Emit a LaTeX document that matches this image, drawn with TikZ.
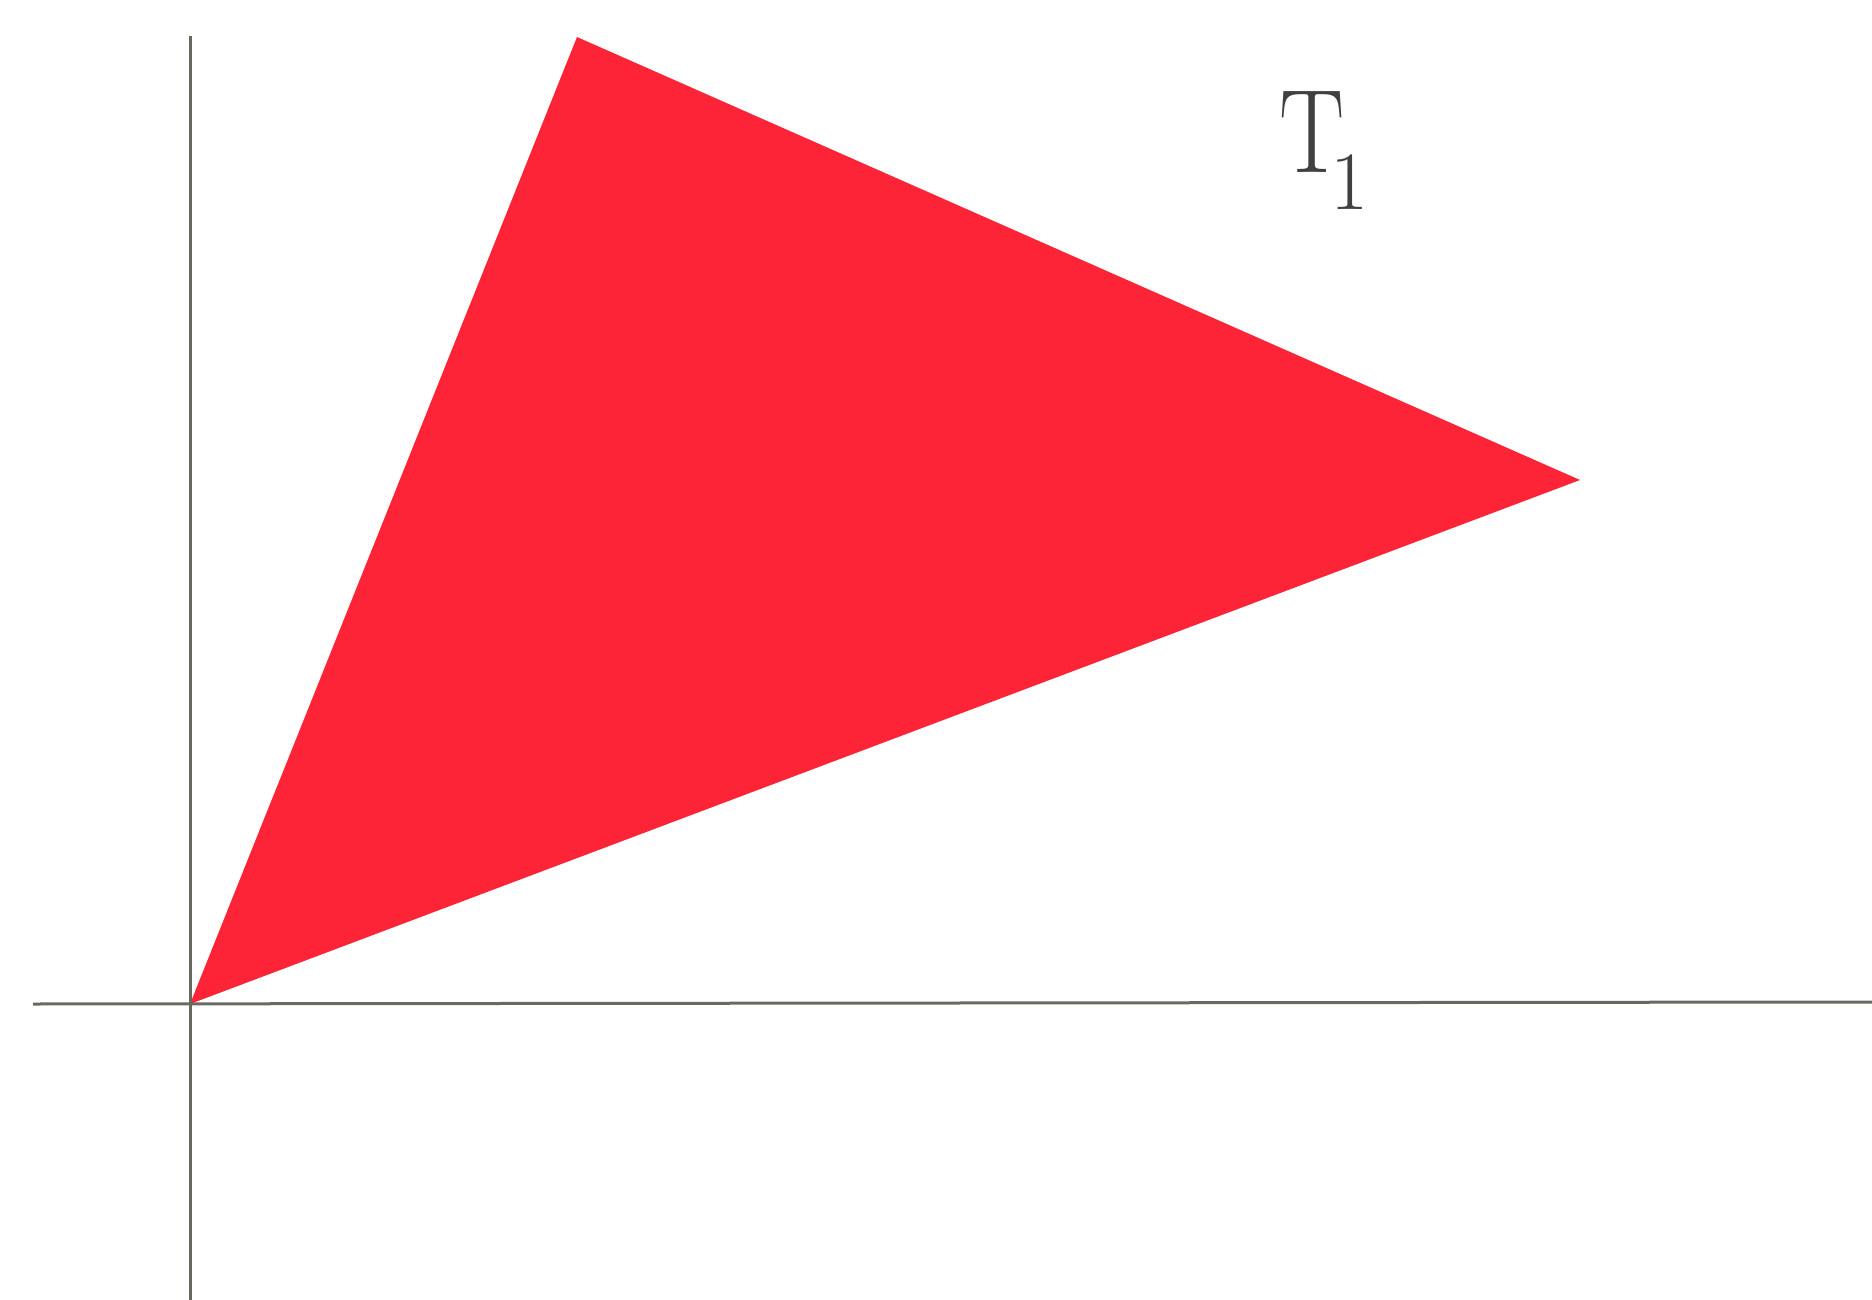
\documentclass[tikz,border=0pt]{standalone}
\usepackage{fontspec}
\begin{document}
\begin{tikzpicture}[x=1pt,y=-1pt]
\definecolor{trired}{RGB}{253,36,55}
\definecolor{axisgray}{RGB}{105,105,95}
\tikzset{axis/.style={draw=axisgray,line width=3pt},
  lbl/.style={inner sep=0pt,anchor=base west,text=black!75}}
\useasboundingbox (0,0) rectangle (1872,1300);
\coordinate (O) at (190,1004);
\coordinate (A) at (577,37);
\coordinate (B) at (1580,480);
\coordinate (yt) at (190,36);
\coordinate (yb) at (190,1300);
\coordinate (xl) at (33,1004);
\coordinate (xr) at (1872,1002);
\fill[trired] (O) -- (A) -- (B) -- cycle;
\draw[axis] (yt) -- (yb);
\draw[axis] (xl) -- (xr);
\node[lbl] (T) at (1279,173) {\fontsize{119}{120}\selectfont\scalebox{0.82}[1]{T}\kern-14pt\raisebox{-37pt}{\fontsize{83}{84}\selectfont 1}};
\end{tikzpicture}
\end{document}
